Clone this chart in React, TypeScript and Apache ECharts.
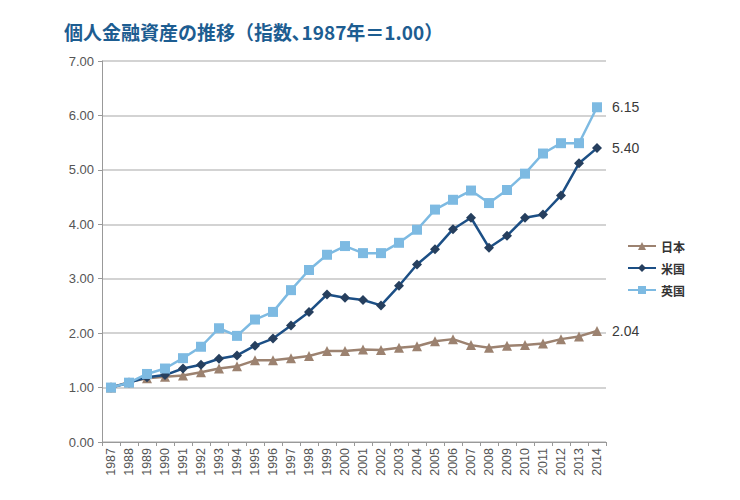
import React, { useEffect, useRef } from "react";
import * as echarts from "echarts";

const years = ["1987","1988","1989","1990","1991","1992","1993","1994","1995","1996","1997","1998","1999","2000","2001","2002","2003","2004","2005","2006","2007","2008","2009","2010","2011","2012","2013","2014"];
const japan = [1.00,1.10,1.17,1.20,1.22,1.28,1.35,1.39,1.50,1.50,1.54,1.58,1.67,1.67,1.70,1.69,1.73,1.76,1.85,1.89,1.78,1.73,1.77,1.78,1.81,1.89,1.94,2.04];
const us = [1.00,1.09,1.19,1.23,1.35,1.42,1.53,1.59,1.77,1.90,2.14,2.39,2.71,2.65,2.61,2.51,2.87,3.26,3.54,3.91,4.12,3.57,3.79,4.12,4.18,4.53,5.12,5.40];
const uk = [1.00,1.09,1.25,1.35,1.54,1.75,2.09,1.95,2.25,2.39,2.79,3.16,3.44,3.60,3.47,3.47,3.66,3.90,4.27,4.45,4.62,4.39,4.63,4.93,5.30,5.49,5.49,6.15];
const yTicks = [0, 1, 2, 3, 4, 5, 6, 7];

const withEndLabel = (arr: number[]) =>
  arr.map((v, i) =>
    i === arr.length - 1
      ? {
          value: v,
          label: {
            show: true,
            position: "right",
            distance: 10,
            formatter: () => v.toFixed(2),
            color: "#3a3a3a",
            fontSize: 14,
            fontFamily: "Liberation Sans, Arial, sans-serif",
          },
        }
      : v
  );

export default function App() {
  const ref = useRef<HTMLDivElement>(null);
  useEffect(() => {
    if (!ref.current) return;
    document.body.style.margin = "0";
    const chart = echarts.init(ref.current, undefined, { renderer: "svg" });
    const font = "Liberation Sans, Arial, sans-serif";
    chart.setOption({
      animation: false,
      backgroundColor: "#ffffff",
      title: {
        text: "個人金融資産の推移（指数､1987年＝1.00）",
        left: 59,
        top: 17,
        textStyle: {
          color: "#1d5d91",
          fontSize: 19,
          fontWeight: "bold",
          fontFamily: "Noto Sans CJK JP, sans-serif",
        },
      },
      legend: {
        orient: "vertical",
        left: 622,
        top: 235,
        itemGap: 10,
        itemWidth: 28,
        itemHeight: 10,
        textStyle: {
          color: "#333333",
          fontSize: 12,
          fontWeight: "bold",
          fontFamily: "Noto Sans CJK JP, sans-serif",
        },
        data: ["日本", "米国", "英国"],
      },
      grid: { left: 102, right: 134, top: 61, bottom: 58, containLabel: false },
      xAxis: {
        type: "category",
        data: years,
        boundaryGap: true,
        axisLine: { show: true, lineStyle: { color: "#999999", width: 1 } },
        axisTick: { show: true, length: 4, lineStyle: { color: "#999999" } },
        axisLabel: {
          rotate: 90,
          interval: 0,
          color: "#555555",
          fontSize: 12.5,
          margin: 6,
          fontFamily: font,
        },
      },
      yAxis: {
        type: "value",
        min: yTicks[0],
        max: yTicks[yTicks.length - 1],
        interval: 1,
        axisLine: { show: true, lineStyle: { color: "#999999", width: 1 } },
        axisTick: { show: true, length: 4, lineStyle: { color: "#999999" } },
        axisLabel: {
          color: "#555555",
          fontSize: 13,
          margin: 8,
          fontFamily: font,
          formatter: (v: number) => v.toFixed(2),
        },
        splitLine: { show: true, lineStyle: { color: "#c4c4c4", width: 1.5 } },
      },
      series: [
        {
          name: "日本",
          type: "line",
          data: withEndLabel(japan),
          symbol: "triangle",
          symbolSize: 10,
          lineStyle: { color: "#9c8270", width: 2.5 },
          itemStyle: { color: "#9c8270" },
          z: 2,
        },
        {
          name: "米国",
          type: "line",
          data: withEndLabel(us),
          symbol: "diamond",
          symbolSize: 10,
          lineStyle: { color: "#1c4f85", width: 2.5 },
          itemStyle: { color: "#263f5e" },
          z: 3,
        },
        {
          name: "英国",
          type: "line",
          data: withEndLabel(uk),
          symbol: "rect",
          symbolSize: 10,
          lineStyle: { color: "#7dbae2", width: 2.5 },
          itemStyle: { color: "#7dbae2" },
          z: 4,
        },
      ],
    });
    return () => chart.dispose();
  }, []);
  return <div ref={ref} style={{ width: 740, height: 500 }} />;
}
